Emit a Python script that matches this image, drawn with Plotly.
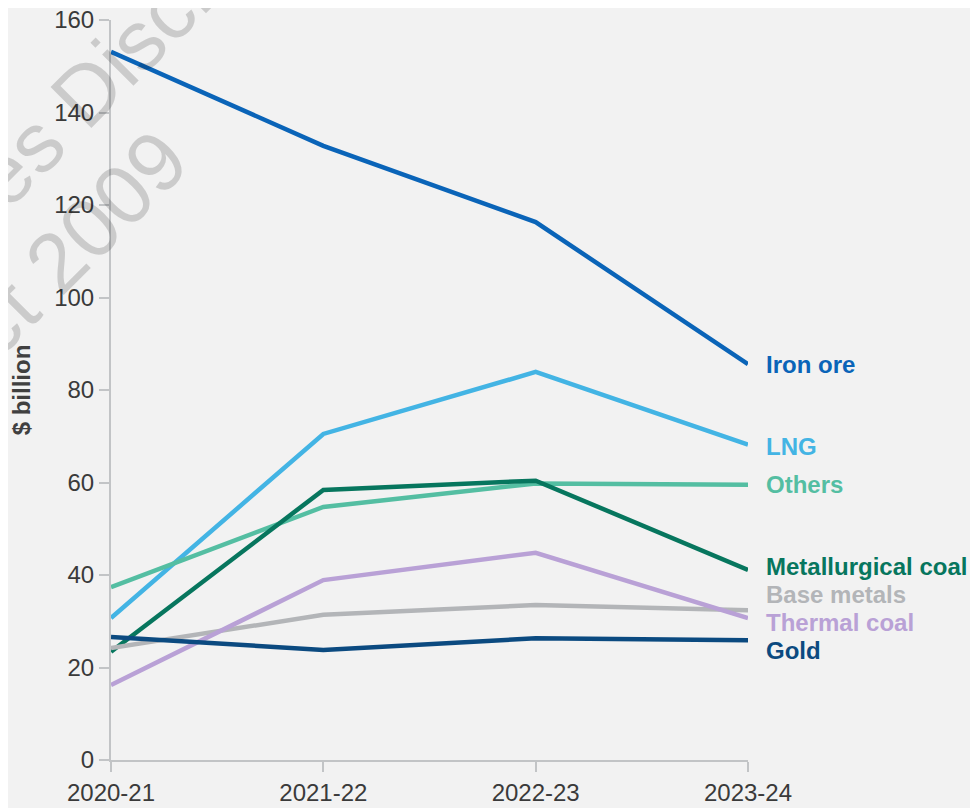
"""Resource export values by commodity, 2020-21 to 2023-24."""

import plotly.graph_objects as go

YEARS = ["2020-21", "2021-22", "2022-23", "2023-24"]

IRON_ORE = [153.1, 132.8, 116.3, 85.6]
LNG = [30.7, 70.5, 83.9, 68.2]
OTHERS = [37.4, 54.7, 59.8, 59.5]
MET_COAL = [23.4, 58.4, 60.4, 41.1]
BASE_METALS = [24.2, 31.4, 33.5, 32.4]
THERMAL_COAL = [16.2, 38.9, 44.8, 30.7]
GOLD = [26.6, 23.8, 26.3, 25.9]

# name, values, colour, label pixel nudge at the right end
SERIES = [
    ("Iron ore", IRON_ORE, "#0a64b8", 0),
    ("LNG", LNG, "#43b4e4", -2),
    ("Others", OTHERS, "#54bea2", 0),
    ("Metallurgical coal", MET_COAL, "#07765e", 3),
    ("Base metals", BASE_METALS, "#b3b5b8", 16),
    ("Thermal coal", THERMAL_COAL, "#b9a1d6", -4),
    ("Gold", GOLD, "#0b4a80", -10),
]

BG = "#f2f2f2"
AXIS = "#c2c4c6"
FONT = "Liberation Sans, Arial, sans-serif"
WATERMARK = "rgba(0,0,0,0.16)"

fig = go.Figure()

for name, values, colour, _ in SERIES:
    fig.add_trace(
        go.Scatter(
            x=YEARS,
            y=values,
            mode="lines",
            name=name,
            line={"color": colour, "width": 4.5},
        )
    )

for name, values, colour, nudge in SERIES:
    fig.add_annotation(
        x=YEARS[-1],
        y=values[-1],
        text=f"<b>{name}</b>",
        showarrow=False,
        xanchor="left",
        yanchor="middle",
        xshift=16,
        yshift=nudge,
        font={"family": FONT, "size": 24, "color": colour},
    )

# faint watermark stamped across the top-left corner
for text, wx, wy in [
    ("Resources Disclosure Log", 0.002, 0.938),
    ("Right to Information Act 2009", -0.504, 0.313),
]:
    fig.add_annotation(
        x=wx, y=wy, xref="paper", yref="paper",
        text=text,
        showarrow=False, textangle=-45,
        xanchor="center", yanchor="middle",
        font={"family": FONT, "size": 84, "color": WATERMARK},
    )

# page body adds an 8px offset, so trim the figure to keep the plot in place
fig.update_layout(
    width=970,
    height=800,
    margin={"l": 103, "r": 230, "t": 12, "b": 48},
    paper_bgcolor=BG,
    plot_bgcolor=BG,
    showlegend=False,
    font={"family": FONT, "size": 24, "color": "#3a3a3a"},
)
axis_style = dict(
    showgrid=False,
    showline=True,
    linecolor=AXIS,
    linewidth=2,
    ticks="outside",
    ticklen=10,
    tickwidth=2,
    tickcolor=AXIS,
    tickfont={"size": 24, "color": "#3a3a3a"},
    zeroline=False,
    automargin=False,
    ticklabeloverflow="allow",
)
fig.update_xaxes(type="category", range=[0, 3], **axis_style)
fig.update_yaxes(
    range=[0, 160],
    dtick=20,
    title={"text": "<b>$ billion</b>", "font": {"size": 24, "color": "#404040"}, "standoff": 22},
    **axis_style,
)

fig.write_html("out.html")
